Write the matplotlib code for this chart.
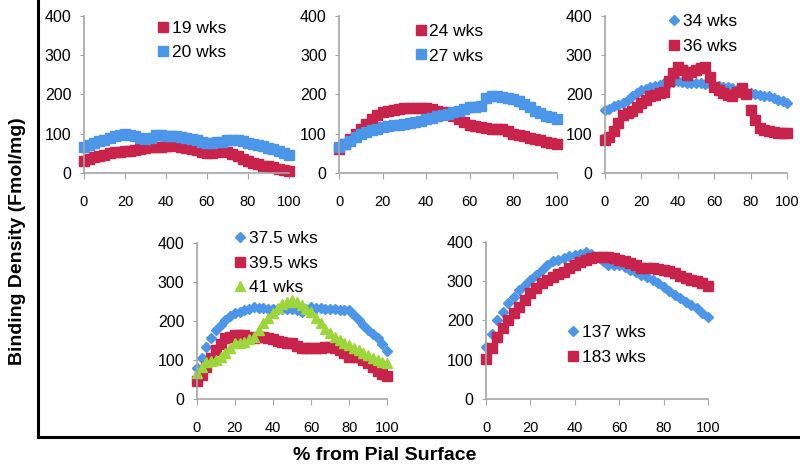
import numpy as np
import matplotlib.pyplot as plt
from matplotlib.lines import Line2D

plt.rcParams['font.family'] = ['Liberation Sans', 'DejaVu Sans']

# % from pial surface, sampled every 2.5 %
pct = np.arange(0, 100.1, 2.5)

w19 = [31, 36, 40, 44, 47, 50, 53, 54, 55, 57, 58, 60, 64, 66, 67, 67, 68, 69, 70, 67, 64,
       62, 59, 54, 51, 52, 54, 55, 53, 48, 42, 36, 30, 26, 22, 19, 17, 14, 11, 8, 5]
w20 = [66, 70, 76, 81, 85, 89, 93, 97, 100, 97, 93, 89, 86, 90, 97, 96, 93, 93, 93, 91, 89,
       87, 85, 80, 76, 77, 78, 80, 83, 84, 85, 81, 76, 74, 72, 68, 64, 60, 55, 50, 45]
w24 = [61, 74, 87, 100, 112, 125, 138, 147, 155, 158, 160, 163, 166, 166, 166, 166, 166, 163, 159, 155, 150,
       144, 138, 130, 123, 120, 117, 114, 112, 112, 112, 106, 100, 97, 93, 90, 87, 84, 80, 77, 74]
w27 = [65, 73, 82, 91, 99, 105, 110, 113, 116, 119, 121, 123, 125, 127, 129, 133, 138, 141, 144, 147, 150,
       155, 159, 163, 167, 169, 171, 190, 197, 195, 193, 191, 189, 183, 176, 167, 159, 152, 146, 142, 138]
w34 = [161, 163, 170, 174, 178, 187, 195, 204, 212, 215, 219, 222, 225, 228, 230, 232, 233, 231, 228, 228, 229,
       229, 227, 226, 225, 222, 220, 218, 216, 212, 208, 205, 203, 200, 198, 196, 195, 191, 187, 183, 178]
w36 = [85, 92, 106, 128, 148, 153, 157, 168, 178, 187, 195, 199, 203, 206, 233, 255, 271, 262, 250, 256, 263,
       268, 271, 245, 220, 210, 203, 199, 195, 205, 216, 200, 161, 135, 114, 110, 106, 104, 103, 102, 102]
w375 = [79, 105, 134, 157, 177, 190, 203, 212, 220, 224, 228, 231, 235, 234, 233, 232, 232, 232, 232, 232, 232,
        228, 224, 230, 235, 234, 233, 232, 232, 230, 229, 228, 228, 215, 203, 190, 177, 166, 156, 140, 122]
w395 = [45, 62, 83, 105, 126, 142, 156, 160, 164, 164, 164, 160, 156, 158, 160, 156, 153, 150, 147, 145, 143,
        137, 130, 130, 130, 131, 132, 133, 134, 130, 126, 117, 109, 109, 109, 100, 92, 82, 71, 64, 58]
w41 = [66, 82, 96, 98, 100, 108, 117, 130, 143, 145, 147, 153, 160, 177, 194, 207, 220, 233, 245, 250, 254,
       248, 241, 232, 224, 209, 194, 181, 169, 160, 151, 145, 139, 132, 126, 119, 113, 106, 100, 96, 92]
w137 = [133, 165, 201, 222, 243, 260, 277, 290, 303, 316, 329, 340, 350, 354, 358, 363, 367, 370, 373, 368, 362,
        352, 341, 341, 341, 335, 329, 322, 316, 310, 303, 295, 286, 276, 265, 257, 248, 240, 231, 220, 209]
w183 = [103, 130, 158, 180, 201, 218, 235, 252, 269, 282, 294, 303, 311, 318, 324, 333, 341, 348, 354, 358, 361,
        362, 362, 358, 354, 350, 346, 340, 333, 333, 333, 331, 329, 325, 320, 314, 307, 303, 299, 294, 288]

RED = '#C8234A'
BLUE = '#4C96EA'
GREEN = '#9CD63A'

fig = plt.figure(figsize=(8, 4.72), dpi=100)


def panel(rect, series, leg_anchor):
    ax = fig.add_axes(rect)
    for vals, label, color, marker, ms in series:
        ax.plot(pct, vals, linestyle='none', marker=marker, color=color, ms=ms,
                mec=color, label=label, clip_on=False)
    ax.set_xlim(0, 100)
    ax.set_ylim(0, 400)
    ax.set_xticks(range(0, 101, 20))
    ax.set_yticks(range(0, 401, 100))
    for s in ['top', 'right']:
        ax.spines[s].set_visible(False)
    for s in ['left', 'bottom']:
        ax.spines[s].set_color('#A6A6A6')
        ax.spines[s].set_linewidth(1.2)
    ax.tick_params(axis='x', direction='out', length=4, color='#A6A6A6', pad=12, labelsize=10.5)
    ax.tick_params(axis='y', direction='out', length=3, color='#A6A6A6', pad=6, labelsize=11.5)
    ax.legend(loc='upper left', bbox_to_anchor=leg_anchor, frameon=False, fontsize=12.5,
              handlelength=0.6, handletextpad=0.2, labelspacing=0.55, borderaxespad=0,
              borderpad=0, markerscale=1.0)
    return ax


SQ = 7.5
DI = 5.5
panel([0.105, 0.6335, 0.256, 0.333],
      [(w19, '19 wks', RED, 's', SQ), (w20, '20 wks', BLUE, 's', SQ)],
      (0.36, 0.97))
panel([0.424, 0.6335, 0.272, 0.333],
      [(w24, '24 wks', RED, 's', SQ), (w27, '27 wks', BLUE, 's', SQ)],
      (0.35, 0.95))
panel([0.756, 0.6335, 0.228, 0.333],
      [(w34, '34 wks', BLUE, 'D', DI), (w36, '36 wks', RED, 's', SQ)],
      (0.35, 1.01))
panel([0.246, 0.1547, 0.238, 0.330],
      [(w375, '37.5 wks', BLUE, 'D', DI), (w395, '39.5 wks', RED, 's', SQ),
       (w41, '41 wks', GREEN, '^', SQ)],
      (0.2, 1.08))
panel([0.6075, 0.1547, 0.2775, 0.333],
      [(w137, '137 wks', BLUE, 'D', DI), (w183, '183 wks', RED, 's', SQ)],
      (0.37, 0.47))

# outer L-shaped frame
fig.add_artist(Line2D([0.0475, 0.0475], [1.0, 0.074], color='black', lw=2.2))
fig.add_artist(Line2D([0.0475, 1.0], [0.074, 0.074], color='black', lw=2.2))

fig.text(0.022, 0.49, 'Binding Density (Fmol/mg)', rotation=90, ha='center', va='center',
         fontsize=14, fontweight='bold')
fig.text(0.481, 0.036, '% from Pial Surface', ha='center', va='center',
         fontsize=14, fontweight='bold')

fig.savefig('out.png', dpi=100)
